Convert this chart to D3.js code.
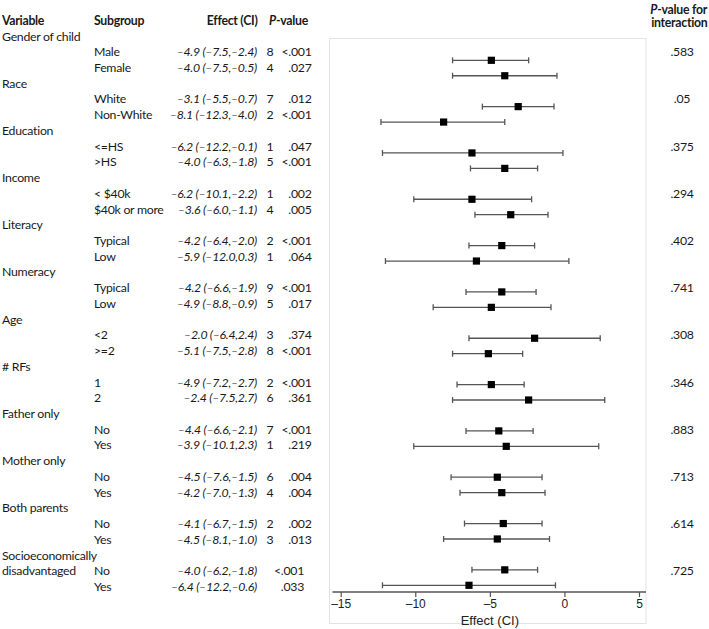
<!DOCTYPE html>
<html><head><meta charset="utf-8">
<script src="https://cdn.jsdelivr.net/npm/d3@7"></script>
<style>body{margin:0;background:#fff;} svg{display:block}</style>
</head><body><svg id="c" width="709" height="629"></svg>
<script>
// ---------- data ----------
const variables = ["Gender of child","Race","Education","Income","Literacy","Numeracy","Age","# RFs",
  "Father only","Mother only","Both parents","Socioeconomically|disadvantaged"];
const subgroups = ["Male","Female","White","Non-White","<=HS",">HS","< $40k","$40k or more",
  "Typical","Low","Typical","Low","<2",">=2","1","2","No","Yes","No","Yes","No","Yes","No","Yes"];
const effects = [-4.9,-4.0,-3.1,-8.1,-6.2,-4.0,-6.2,-3.6,-4.2,-5.9,-4.2,-4.9,-2.0,-5.1,-4.9,-2.4,
  -4.4,-3.9,-4.5,-4.2,-4.1,-4.5,-4.0,-6.4];
const lowerCI = [-7.5,-7.5,-5.5,-12.3,-12.2,-6.3,-10.1,-6.0,-6.4,-12.0,-6.6,-8.8,-6.4,-7.5,-7.2,-7.5,
  -6.6,-10.1,-7.6,-7.0,-6.7,-8.1,-6.2,-12.2];
const upperCI = [-2.4,-0.5,-0.7,-4.0,-0.1,-1.8,-2.2,-1.1,-2.0,0.3,-1.9,-0.9,2.4,-2.8,-2.7,2.7,
  -2.1,2.3,-1.5,-1.3,-1.5,-1.0,-1.8,-0.6];
const nStudies = [8,4,7,2,1,5,1,4,2,1,9,5,3,8,2,6,7,1,6,4,2,3,null,null];
const pValues = ["<.001",".027",".012","<.001",".047","<.001",".002",".005","<.001",".064","<.001",".017",
  ".374","<.001","<.001",".361","<.001",".219",".004",".004",".002",".013","<.001",".033"];
const pInteraction = [".583",".05",".375",".294",".402",".741",".308",".346",".883",".713",".614",".725"];
const xTicks = [-15,-10,-5,0,5];

// ---------- layout ----------
const svg = d3.select("#c");
const FONT = "Lato, 'Open Sans', sans-serif";
const FS = 12.3, LS = -0.28;
const txtColor = "#1a1a1a";
const fmt = v => (v < 0 ? "\u2013" : "") + Math.abs(v).toFixed(1);
const fmtTick = v => (v < 0 ? "\u2013" : "") + Math.abs(v);

const yText = d3.scaleLinear().domain([0, 35]).range([36, 586.5]);
const yPlot = d3.scaleLinear().domain([1, 35]).range([60.3, 585.3]);
const x = d3.scaleLinear().domain([-15, 5]).range([340.7, 639]);

// panel
svg.append("rect").attr("x", 329.5).attr("y", 38.5).attr("width", 316.5).attr("height", 585)
  .attr("fill", "#fff").attr("stroke", "#e3e3e3").attr("stroke-width", 1);

// headers
const hdr = svg.append("g").attr("font-family", FONT).attr("font-size", FS).attr("letter-spacing", LS)
  .attr("fill", txtColor).attr("font-weight", "bold").attr("dominant-baseline", "central");
hdr.append("text").attr("x", 2).attr("y", yText(-1)).text("Variable");
hdr.append("text").attr("x", 94).attr("y", yText(-1)).text("Subgroup");
hdr.append("text").attr("x", 257.5).attr("y", yText(-1)).attr("text-anchor", "end").text("Effect (CI)");
const ph = hdr.append("text").attr("x", 269).attr("y", yText(-1));
ph.append("tspan").attr("font-style", "italic").text("P");
ph.append("tspan").text("-value");
const pi = hdr.append("text").attr("x", 707).attr("y", 8.5).attr("text-anchor", "end");
pi.append("tspan").attr("font-style", "italic").text("P");
pi.append("tspan").text("-value for");
hdr.append("text").attr("x", 707.5).attr("y", 22).attr("text-anchor", "end").text("interaction");

// table body
const body = svg.append("g").attr("font-family", FONT).attr("font-size", FS).attr("letter-spacing", LS)
  .attr("fill", txtColor).attr("dominant-baseline", "central");
variables.forEach((v, g) => {
  v.split("|").forEach((part, k) => {
    body.append("text").attr("x", 2).attr("y", yText(3 * g + k)).text(part);
  });
  body.append("text").attr("x", 682).attr("y", yText(3 * g + 1)).attr("text-anchor", "middle")
    .text(pInteraction[g]);
});
subgroups.forEach((s, i) => {
  const g = Math.floor(i / 2), r = 3 * g + 1 + (i % 2);
  const y = yText(r);
  body.append("text").attr("x", 94).attr("y", y).text(s);
  body.append("text").attr("x", 257).attr("y", y).attr("text-anchor", "end").attr("font-style", "italic")
    .text(`${fmt(effects[i])} (${fmt(lowerCI[i])},${fmt(upperCI[i])})`);
  if (nStudies[i] != null) {
    body.append("text").attr("x", 270).attr("y", y).attr("text-anchor", "middle").text(nStudies[i]);
    body.append("text").attr("x", 311.5).attr("y", y).attr("text-anchor", "end").text(pValues[i]);
  } else {
    body.append("text").attr("x", 304).attr("y", y).attr("text-anchor", "end").text(pValues[i]);
  }
});

// forest marks
const marks = svg.append("g");
const lineCol = "#555";
subgroups.forEach((s, i) => {
  const g = Math.floor(i / 2), r = 3 * g + 1 + (i % 2);
  const y = yPlot(r);
  marks.append("line").attr("x1", x(lowerCI[i])).attr("x2", x(upperCI[i])).attr("y1", y).attr("y2", y)
    .attr("stroke", lineCol).attr("stroke-width", 1.3);
  [lowerCI[i], upperCI[i]].forEach(v => {
    marks.append("line").attr("x1", x(v)).attr("x2", x(v)).attr("y1", y - 3).attr("y2", y + 3)
      .attr("stroke", lineCol).attr("stroke-width", 1.3);
  });
  marks.append("rect").attr("x", x(effects[i]) - 3.6).attr("y", y - 3.6).attr("width", 7.2).attr("height", 7.2)
    .attr("fill", "#000");
});

// axis
const axisY = 592;
const ax = svg.append("g").attr("transform", `translate(0,${axisY})`)
  .call(d3.axisBottom(x).tickValues(xTicks).tickSize(5).tickPadding(2).tickFormat(fmtTick));
ax.select(".domain").remove();
ax.selectAll(".tick line").attr("stroke", lineCol).attr("stroke-width", 1.2);
ax.selectAll(".tick text").attr("font-family", "'Liberation Sans', Arial, sans-serif").attr("font-size", 12)
  .attr("fill", "#222");
ax.append("line").attr("x1", x(-15.55)).attr("x2", x(5.47)).attr("y1", 0).attr("y2", 0)
  .attr("stroke", lineCol).attr("stroke-width", 1.3);
svg.append("text").attr("x", x(-5)).attr("y", 620).attr("text-anchor", "middle")
  .attr("dominant-baseline", "central").attr("font-family", "'Liberation Sans', Arial, sans-serif")
  .attr("font-size", 13).attr("fill", "#222").text("Effect (CI)");
</script></body></html>
